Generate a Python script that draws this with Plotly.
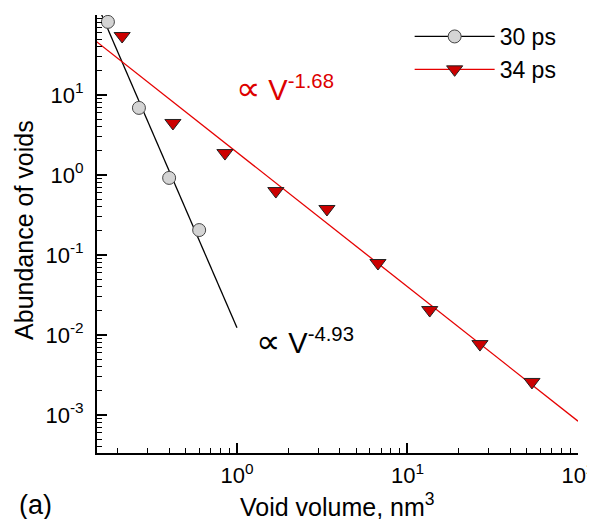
import numpy as np
import plotly.graph_objects as go

# ---- data ----
V30 = [0.175, 0.266, 0.40, 0.60]
N30 = [82, 6.9, 0.92, 0.205]
V34 = [0.212, 0.421, 0.85, 1.69, 3.37, 6.71, 13.5, 26.6, 53.7]
N34 = [54.6, 4.47, 1.88, 0.63, 0.376, 0.0794, 0.0205, 0.0077, 0.00259]

# power-law fits N = A * V**p
FIT30_A, FIT30_P = 0.0123, -4.93
FIT34_A, FIT34_P = 1.92, -1.68
FIT30_V = [0.155, 1.0]
FIT34_V = [0.15, 100.0]

X_TICKS = [1, 10, 100]
X_TICKTEXT = ["10<sup>0</sup>", "10<sup>1</sup>", "10<sup>2</sup>"]
Y_TICKS = [1e-3, 1e-2, 1e-1, 1, 10, 100]
Y_TICKTEXT = ["10<sup>-3</sup>", "10<sup>-2</sup>", "10<sup>-1</sup>", "10<sup>0</sup>", "10<sup>1</sup>", ""]

FONT = "Liberation Sans, Arial, Helvetica, sans-serif"
RED_LINE = "#e60000"
RED_FILL = "#cc0000"

fig = go.Figure()

fit30_y = [FIT30_A * v ** FIT30_P for v in FIT30_V]
fit34_y = [FIT34_A * v ** FIT34_P for v in FIT34_V]

fig.add_trace(go.Scatter(x=FIT30_V, y=fit30_y, mode="lines",
                         line=dict(color="black", width=1.3), showlegend=False, hoverinfo="skip"))
fig.add_trace(go.Scatter(x=FIT34_V, y=fit34_y, mode="lines",
                         line=dict(color=RED_LINE, width=1.3), showlegend=False, hoverinfo="skip"))

fig.add_trace(go.Scatter(x=V30, y=N30, mode="markers", name="30 ps",
                         marker=dict(symbol="circle", size=13, color="#d4d4d4",
                                     line=dict(color="#444444", width=1)),
                         showlegend=False))
fig.add_trace(go.Scatter(x=V34, y=N34, mode="markers", name="34 ps",
                         marker=dict(symbol="triangle-down", size=14, color=RED_FILL,
                                     line=dict(color="#222222", width=1)),
                         showlegend=False))

# legend entries (line + marker) via built-in legend
fig.add_trace(go.Scatter(x=[None], y=[None], mode="lines+markers", name="30 ps",
                         line=dict(color="black", width=1.3),
                         marker=dict(symbol="circle", size=13, color="#d4d4d4",
                                     line=dict(color="#444444", width=1))))
fig.add_trace(go.Scatter(x=[None], y=[None], mode="lines+markers", name="34 ps",
                         line=dict(color=RED_LINE, width=1.3),
                         marker=dict(symbol="triangle-down", size=14, color=RED_FILL,
                                     line=dict(color="#222222", width=1))))

axis_common = dict(type="log", showline=True, linecolor="black", linewidth=2,
                   ticks="inside", ticklen=10, tickwidth=2, tickcolor="black",
                   showgrid=False, zeroline=False, mirror=False, automargin=False,
                   tickfont=dict(family=FONT, size=22, color="black"),
                   minor=dict(ticks="inside", ticklen=5, tickwidth=1, tickcolor="black",
                              dtick="D1", showgrid=False))

fig.update_xaxes(**axis_common, range=[np.log10(0.151), 2],
                 tickvals=X_TICKS, ticktext=X_TICKTEXT, ticklabelstandoff=2,
                 ticklabeloverflow="allow")
fig.update_yaxes(**axis_common, range=[np.log10(3.35e-4), 2],
                 tickvals=Y_TICKS, ticktext=Y_TICKTEXT, ticklabelstandoff=7)

# axis titles as annotations
fig.add_annotation(x=0.5, y=-0.119, xref="paper", yref="paper", xanchor="center", yanchor="middle",
                   text="Void volume, nm<sup>3</sup>", showarrow=False,
                   font=dict(family=FONT, size=25, color="black"))
fig.add_annotation(x=-0.152, y=0.509, xref="paper", yref="paper", xanchor="center", yanchor="middle",
                   text="Abundance of voids", textangle=-90, showarrow=False,
                   font=dict(family=FONT, size=25, color="black"))

SYM = '<span style="font-family:DejaVu Sans;font-size:34px">∝</span>'
fig.add_annotation(x=0.285, y=0.833, xref="paper", yref="paper", xanchor="left", yanchor="middle",
                   text=SYM + ' V<sup>-1.68</sup>',
                   showarrow=False, font=dict(family=FONT, size=29, color="#dd0000"))
fig.add_annotation(x=0.327, y=0.256, xref="paper", yref="paper", xanchor="left", yanchor="middle",
                   text=SYM + ' V<sup>-4.93</sup>',
                   showarrow=False, font=dict(family=FONT, size=29, color="black"))
fig.add_annotation(x=-0.167, y=-0.157, xref="paper", yref="paper", xanchor="left", yanchor="bottom",
                   text="(a)", showarrow=False,
                   font=dict(family=FONT, size=27, color="black"))

# page body has an 8px margin: figure shifted by 8px, so shrink it by 8px to end at the window edge
fig.update_layout(
    width=587, height=511,
    margin=dict(l=89, r=17, t=7, b=66, autoexpand=False),
    paper_bgcolor="white", plot_bgcolor="white",
    showlegend=True,
    legend=dict(x=0.65, y=1.0, xanchor="left", yanchor="top", itemwidth=80,
                bgcolor="rgba(0,0,0,0)", font=dict(family=FONT, size=23, color="black"),
                tracegroupgap=0),
)

fig.write_html("out.html")
